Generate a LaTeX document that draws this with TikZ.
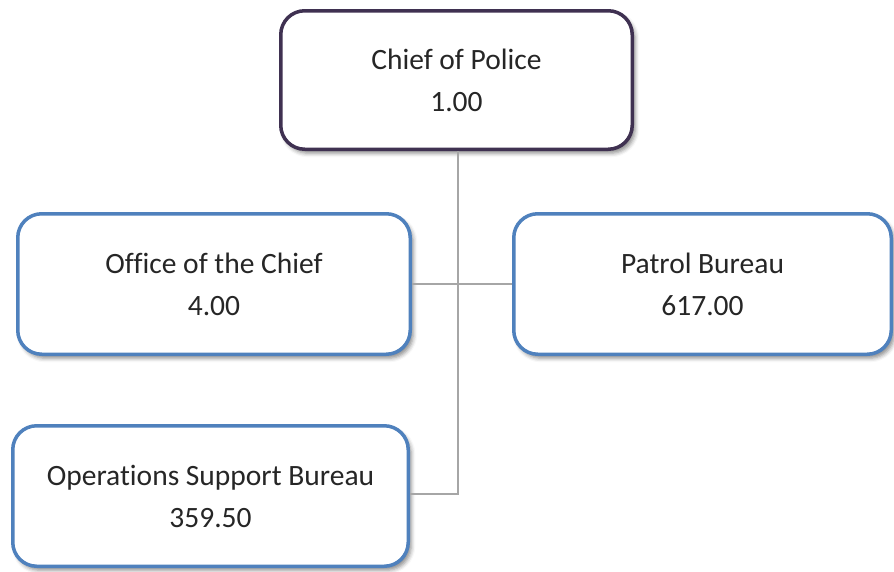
\documentclass[tikz,border=0pt]{standalone}
\usepackage{fontspec}
\setmainfont{Carlito}[Ligatures={NoCommon}]
\usetikzlibrary{shadows.blur}
\definecolor{chiefline}{HTML}{3F3151}
\definecolor{unitline}{HTML}{4F81BD}
\definecolor{connline}{HTML}{A6A6A6}
\definecolor{txt}{HTML}{262626}
\tikzset{
  orgbox/.style={draw, line width=3.5pt, rounded corners=24pt, fill=white,
    align=center, text=txt, font=\fontsize{29.5}{42}\selectfont, inner sep=0pt,
    blur shadow={shadow xshift=3pt, shadow yshift=-4pt, shadow blur radius=4pt, shadow opacity=45}},
  chiefbox/.style={orgbox, draw=chiefline},
  unitbox/.style={orgbox, draw=unitline},
  conn/.style={draw=connline, line width=2pt}
}
\begin{document}
\begin{tikzpicture}[x=1pt,y=1pt]
\useasboundingbox (0,0) rectangle (894,-571);
\node[chiefbox, minimum width=351.5, minimum height=138.5] (chief) at (456.5,-80) {Chief of Police\\1.00};
\node[unitbox, minimum width=392.5, minimum height=140.5] (office) at (214,-284) {Office of the Chief\\4.00};
\node[unitbox, minimum width=377.5, minimum height=140.5] (patrol) at (702.5,-284) {Patrol Bureau\\617.00};
\node[unitbox, minimum width=395.5, minimum height=140.5] (ops) at (210.5,-496) {Operations Support Bureau\\359.50};
\coordinate (bot) at (458,-494);
\draw[conn] (chief.south -| bot) -- (bot) -- (ops.east |- bot);
\draw[conn] (office.east) -- (patrol.west);
\end{tikzpicture}
\end{document}
